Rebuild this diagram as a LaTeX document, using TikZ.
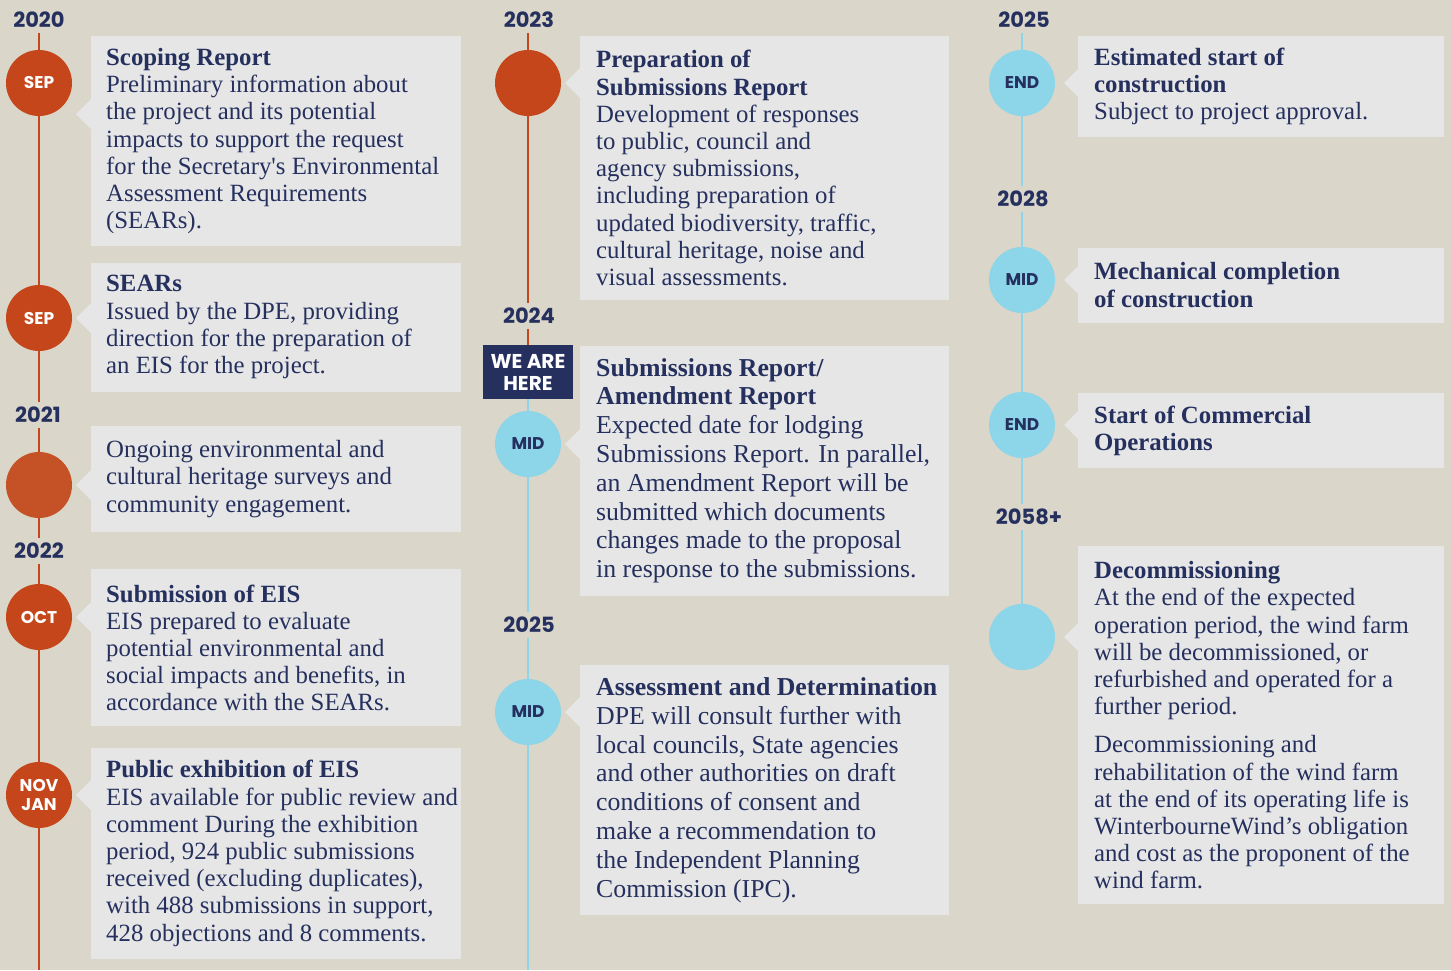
\documentclass[tikz,border=0pt]{standalone}
\usepackage{fontspec}
\newfontfamily\cardfont{Liberation Serif}
\newfontfamily\tagfont{Poppins}
\usetikzlibrary{positioning,calc}
\definecolor{sand}{HTML}{DAD6C9}
\definecolor{cardgrey}{HTML}{E6E6E6}
\definecolor{navy}{HTML}{25305E}
\definecolor{rust}{HTML}{C4461A}
\definecolor{rustlight}{HTML}{C55126}
\definecolor{sky}{HTML}{8DD5E8}

\begin{document}
\begin{tikzpicture}[x=1pt,y=-1pt,
		card/.style={rectangle, fill=cardgrey, inner sep=0pt, anchor=north west},
		cardtext/.style={inner sep=0pt, align=left, text=navy, font=\cardfont\fontsize{24.8}{27.2}\selectfont},
		bigtext/.style={cardtext, font=\cardfont\fontsize{25.8}{28.8}\selectfont},
		dot/.style={circle, minimum size=66pt, inner sep=0pt, align=center, font=\tagfont\bfseries\fontsize{17}{19}\selectfont},
		rustdot/.style={dot, fill=rust, text=white},
		skydot/.style={dot, fill=sky, text=navy},
		year/.style={fill=sand, inner xsep=2pt, inner ysep=5pt, text=navy, font=\tagfont\bfseries\fontsize{21}{24}\selectfont},
		rustline/.style={draw=rust, line width=2pt},
		skyline/.style={draw=sky, line width=2pt}]
				\fill[sand] (0,0) rectangle (1451,970);
				\useasboundingbox (0,0) rectangle (1451,970);

				\node[card, minimum width=370pt, minimum height=210pt] (scoping) at (91,36) {};
				\node[card, minimum width=370pt, minimum height=129pt, below=16pt of scoping] (sears) {};
				\node[card, minimum width=370pt, minimum height=106pt, below=34pt of sears] (surveys) {};
				\node[card, minimum width=370pt, minimum height=157pt, below=37pt of surveys] (submission) {};
				\node[card, minimum width=370pt, minimum height=211pt, below=21pt of submission] (exhibition) {};

				\node[card, minimum width=369pt, minimum height=264pt] (preparation) at (580,36) {};
				\node[card, minimum width=369pt, minimum height=250pt, below=45pt of preparation] (amendment) {};
				\node[card, minimum width=369pt, minimum height=250pt, below=69pt of amendment] (assessment) {};

				\node[card, minimum width=366pt, minimum height=101pt] (construction) at (1078,36) {};
				\node[card, minimum width=366pt, minimum height=75pt, below=110pt of construction] (mechanical) {};
				\node[card, minimum width=366pt, minimum height=75pt, below=70pt of mechanical] (commercial) {};
				\node[card, minimum width=366pt, minimum height=358pt, below=78pt of commercial] (decommissioning) {};

				\node[rustdot] (scopingdot) at (39,83) {SEP};
				\node[rustdot] (searsdot) at (39,318) {SEP};
				\node[dot, fill=rustlight] (surveysdot) at (39,485) {};
				\node[rustdot] (submissiondot) at (39,617) {OCT};
				\node[rustdot] (exhibitiondot) at (39,795) {NOV\\JAN};
				\node[rustdot] (preparationdot) at (528,83) {};
				\node[skydot] (amendmentdot) at (528,444) {MID};
				\node[skydot] (assessmentdot) at (528,712) {MID};
				\node[skydot] (constructiondot) at (1022,83) {END};
				\node[skydot] (mechanicaldot) at (1022,280) {MID};
				\node[skydot] (commercialdot) at (1022,425) {END};
				\node[skydot] (decommissioningdot) at (1022,637) {};

				\node[rectangle, fill=navy, minimum width=90pt, minimum height=54pt, inner sep=0pt, text=white, align=center, font=\tagfont\bfseries\fontsize{20}{22}\selectfont] (herebox) at (528,372) {WE ARE\\HERE};

				\node[year] (y2020) at (39,20) {2020};
				\node[year] (y2021) at (38,415) {2021};
				\node[year] (y2022) at (39,551) {2022};
				\node[year] (y2023) at (529,20) {2023};
				\node[year] (y2024) at (529,316) {2024};
				\node[year] (y2025a) at (529,625) {2025};
				\node[year] (y2025b) at (1024,20) {2025};
				\node[year] (y2028) at (1023,199) {2028};
				\node[year] (y2058) at (1029,517) {2058+};

				\coordinate (col1end) at (39,970);
				\coordinate (col2end) at (528,970);

				\draw[rustline] (y2020.south -| scopingdot) -- (scopingdot) -- (searsdot) -- (y2021.north -| searsdot);
				\draw[rustline] (y2021.south -| surveysdot) -- (surveysdot) -- (y2022.north -| surveysdot);
				\draw[rustline] (y2022.south -| submissiondot) -- (submissiondot) -- (exhibitiondot) -- (col1end);
				\draw[rustline] (y2023.south -| preparationdot) -- (preparationdot) -- (y2024.north -| preparationdot);
				\draw[rustline] (y2024.south -| herebox) -- (herebox);
				\draw[skyline] (herebox) -- (amendmentdot) -- (y2025a.north -| amendmentdot);
				\draw[skyline] (y2025a.south -| assessmentdot) -- (assessmentdot) -- (col2end);
				\draw[skyline] (y2025b.south -| constructiondot) -- (constructiondot) -- (y2028.north -| constructiondot);
				\draw[skyline] (y2028.south -| mechanicaldot) -- (mechanicaldot) -- (commercialdot) -- (y2058.north -| commercialdot);
				\draw[skyline] (y2058.south -| decommissioningdot) -- (decommissioningdot);

				\fill[cardgrey] (scoping.west |- 0,114) ++(-15,0) -- ++(15,-15) -- ++(0,30) -- cycle;
				\fill[cardgrey] (sears.west |- searsdot) ++(-15,0) -- ++(15,-15) -- ++(0,30) -- cycle;
				\fill[cardgrey] (surveys.west |- surveysdot) ++(-15,0) -- ++(15,-15) -- ++(0,30) -- cycle;
				\fill[cardgrey] (submission.west |- submissiondot) ++(-15,0) -- ++(15,-15) -- ++(0,30) -- cycle;
				\fill[cardgrey] (exhibition.west |- exhibitiondot) ++(-15,0) -- ++(15,-15) -- ++(0,30) -- cycle;
				\fill[cardgrey] (preparation.west |- preparationdot) ++(-15,0) -- ++(15,-15) -- ++(0,30) -- cycle;
				\fill[cardgrey] (amendment.west |- amendmentdot) ++(-15,0) -- ++(15,-15) -- ++(0,30) -- cycle;
				\fill[cardgrey] (assessment.west |- assessmentdot) ++(-15,0) -- ++(15,-15) -- ++(0,30) -- cycle;
				\fill[cardgrey] (construction.west |- constructiondot) ++(-14,0) -- ++(14,-14) -- ++(0,28) -- cycle;
				\fill[cardgrey] (mechanical.west |- mechanicaldot) ++(-14,0) -- ++(14,-14) -- ++(0,28) -- cycle;
				\fill[cardgrey] (commercial.west |- commercialdot) ++(-14,0) -- ++(14,-14) -- ++(0,28) -- cycle;
				\fill[cardgrey] (decommissioning.west |- decommissioningdot) ++(-14,0) -- ++(14,-14) -- ++(0,28) -- cycle;

				\node[cardtext, right=15pt of scoping.west] (scopingtext) {\textbf{Scoping Report}\\Preliminary information about\\the project and its potential\\impacts to support the request\\for the Secretary's Environmental\\Assessment Requirements\\(SEARs).};
				\node[cardtext, right=15pt of sears.west] (searstext) {\textbf{SEARs}\\Issued by the DPE, providing\\direction for the preparation of\\an EIS for the project.};
				\node[cardtext, right=15pt of surveys.west] (surveystext) {Ongoing environmental and\\cultural heritage surveys and\\community engagement.};
				\node[cardtext, right=15pt of submission.west] (submissiontext) {\textbf{Submission of EIS}\\EIS prepared to evaluate\\potential environmental and\\social impacts and benefits, in\\accordance with the SEARs.};
				\node[cardtext, right=15pt of exhibition.west] (exhibitiontext) {\textbf{Public exhibition of EIS}\\EIS available for public review and\\comment During the exhibition\\period, 924 public submissions\\received (excluding duplicates),\\with 488 submissions in support,\\428 objections and 8 comments.};

				\node[cardtext, right=16pt of preparation.west] (preparationtext) {\textbf{Preparation of}\\\textbf{Submissions Report}\\Development of responses\\to public, council and\\agency submissions,\\including preparation of\\updated biodiversity, traffic,\\cultural heritage, noise and\\visual assessments.};
				\node[bigtext, right=16pt of amendment.west] (amendmenttext) {\textbf{Submissions Report/}\\\textbf{Amendment Report}\\Expected date for lodging\\Submissions Report. In parallel,\\an Amendment Report will be\\submitted which documents\\changes made to the proposal\\in response to the submissions.};
				\node[bigtext, right=16pt of assessment.west] (assessmenttext) {\textbf{Assessment and Determination}\\DPE will consult further with\\local councils, State agencies\\and other authorities on draft\\conditions of consent and\\make a recommendation to\\the Independent Planning\\Commission (IPC).};

				\node[cardtext, right=16pt of construction.west] (constructiontext) {\textbf{Estimated start of}\\\textbf{construction}\\Subject to project approval.};
				\node[cardtext, right=16pt of mechanical.west] (mechanicaltext) {\textbf{Mechanical completion}\\\textbf{of construction}};
				\node[cardtext, right=16pt of commercial.west] (commercialtext) {\textbf{Start of Commercial}\\\textbf{Operations}};
				\node[cardtext, right=16pt of decommissioning.west] (decommissioningtext) {\textbf{Decommissioning}\\At the end of the expected\\operation period, the wind farm\\will be decommissioned, or\\refurbished and operated for a\\further period.\\[11pt]Decommissioning and\\rehabilitation of the wind farm\\at the end of its operating life is\\WinterbourneWind’s obligation\\and cost as the proponent of the\\wind farm.};
			\end{tikzpicture}
\end{document}
